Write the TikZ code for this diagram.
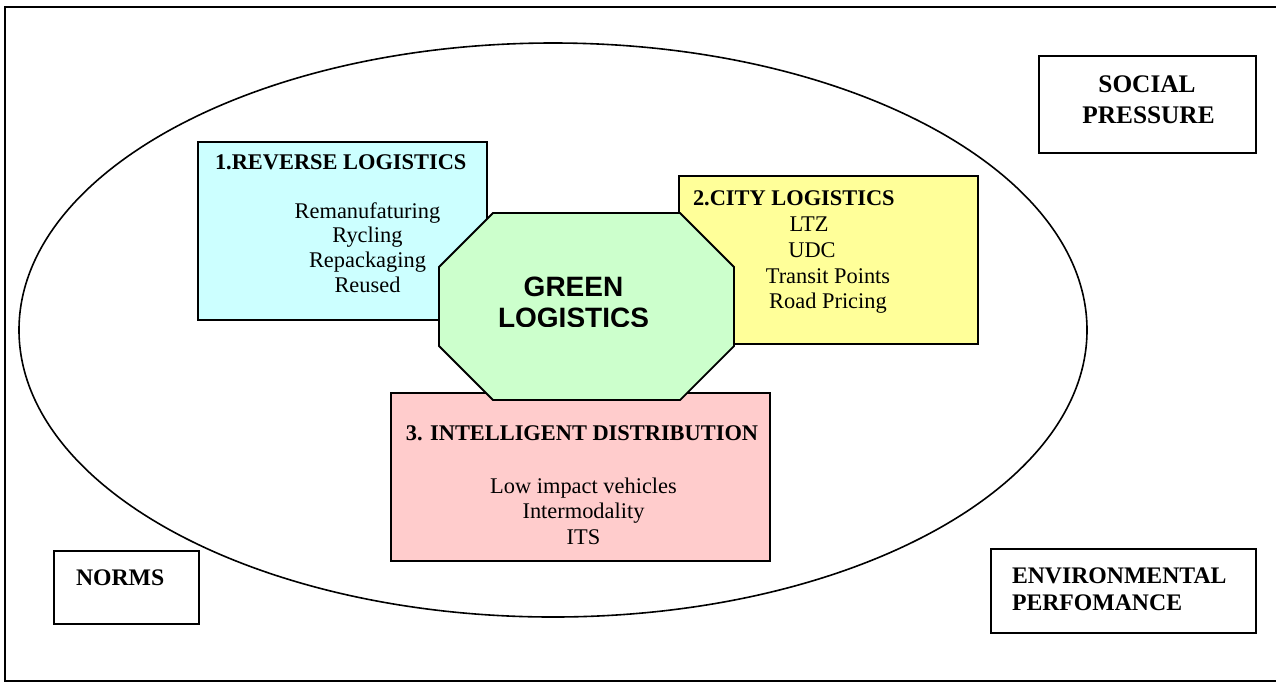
\documentclass[tikz,border=0pt]{standalone}
\usepackage{fontspec}
\setmainfont{Liberation Serif}
\newfontfamily\arialfam{Liberation Sans}
\definecolor{revcol}{HTML}{CCFFFF}
\definecolor{citycol}{HTML}{FFFF99}
\definecolor{intcol}{HTML}{FFCCCC}
\definecolor{greencol}{HTML}{CCFFCC}
\begin{document}
\begin{tikzpicture}[x=0.75pt,y=-0.75pt,
  boxshape/.style={draw=black,line width=1.35pt,rectangle,inner sep=0pt,outer sep=0pt},
  txt/.style={inner sep=0pt,outer sep=0pt,anchor=base,font=\fontsize{16.8}{19}\selectfont},
  ttl/.style={inner sep=0pt,outer sep=0pt,anchor=base west,font=\fontsize{16.8}{19}\selectfont\bfseries},
  ctxt/.style={inner sep=0pt,outer sep=0pt,font=\fontsize{17.8}{20}\selectfont\bfseries},
  greentxt/.style={inner sep=0pt,outer sep=0pt,anchor=base,font=\fontsize{21}{25}\selectfont\arialfam\bfseries}]
\useasboundingbox (0,0) rectangle (1276,683);
% outer frame
\draw[line width=1.8pt] (5,7) rectangle (1285,681);
% ellipse
\draw[line width=1.2pt] (553,330) ellipse [x radius=400.5pt, y radius=215.25pt];
% boxes
\node[boxshape,fill=revcol,minimum width=216.75pt,minimum height=133.5pt] (rev) at (342.5,231) {};
\node[boxshape,fill=citycol,minimum width=224.25pt,minimum height=126pt] (city) at (828.5,260) {};
\node[boxshape,fill=intcol,minimum width=284.25pt,minimum height=126pt] (intel) at (580.5,477) {};
% octagon
\draw[line width=1.35pt,fill=greencol] (493,213) -- (680,213) -- (734,267) -- (734,346) -- (680,400) -- (493,400) -- (439,346) -- (439,267) -- cycle;
\coordinate (octc) at (586.5,306.5);
\node[greentxt] (green1) at (573.5,296) {GREEN};
\begin{scope}
\clip (439,213) rectangle (734,326);
\node[greentxt] (green2) at (573.5,327) {LOGISTICS};
\end{scope}
% reverse logistics texts
\node[ttl] (revt) at (215,169) {1.REVERSE LOGISTICS};
\node[txt] (rev1) at (367.5,218) {Remanufaturing};
\node[txt] (rev2) at (367.5,242.7) {Rycling};
\node[txt] (rev3) at (367.5,267.4) {Repackaging};
\node[txt] (rev4) at (367.5,292.1) {Reused};
% city logistics texts
\node[ttl] (cityt) at (693,205) {2.CITY LOGISTICS};
\node[txt] (city1) at (809,231) {LTZ};
\node[txt] (city2) at (812,257) {UDC};
\node[txt] (city3) at (828,283) {Transit Points};
\node[txt] (city4) at (828,308) {Road Pricing};
% intelligent distribution texts
\node[txt,font=\fontsize{16.8}{19}\selectfont\bfseries] (intt) at (582,440) {3. INTELLIGENT DISTRIBUTION};
\node[txt] (int1) at (583.5,493) {Low impact vehicles};
\node[txt] (int2) at (583.5,518.5) {Intermodality};
\node[txt] (int3) at (583.5,544) {ITS};
% corner boxes
\node[boxshape,fill=white,minimum width=162.75pt,minimum height=72.75pt] (social) at (1147.5,104.5) {};
\node[ctxt,anchor=base,font=\fontsize{19}{22}\selectfont\bfseries] (social1) at (1147,92) {SOCIAL};
\node[ctxt,anchor=base,font=\fontsize{19}{22}\selectfont\bfseries] (social2) at (1148.5,123) {PRESSURE};
\node[boxshape,fill=white,minimum width=108.75pt,minimum height=54.75pt] (norms) at (126.5,587.5) {};
\node[ctxt,anchor=base west] (normst) at (76,585) {NORMS};
\node[boxshape,fill=white,minimum width=198.75pt,minimum height=63pt] (env) at (1123.5,591) {};
\node[ctxt,anchor=base west] (env1) at (1012,583) {ENVIRONMENTAL};
\node[ctxt,anchor=base west] (env2) at (1012,610) {PERFOMANCE};
\end{tikzpicture}
\end{document}
